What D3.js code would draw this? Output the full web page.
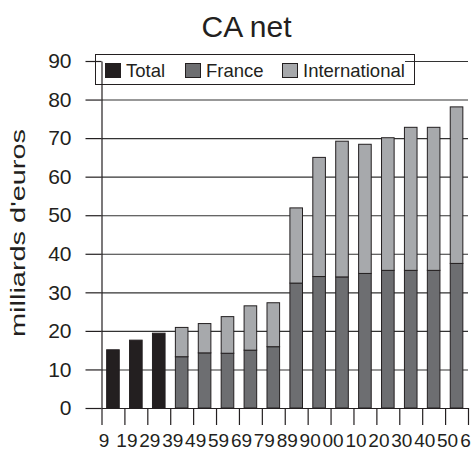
<!DOCTYPE html>
<html>
<head>
<meta charset="utf-8">
<script src="https://cdn.jsdelivr.net/npm/d3@7"></script>
<style>
  html, body { margin: 0; padding: 0; background: #fff; }
  svg { display: block; font-family: "Liberation Sans", Arial, Helvetica, sans-serif; }
</style>
</head>
<body>
<svg id="chart" width="473" height="453"></svg>
<script>
// Chiffre d'affaires net, en milliards d'euros
const tickLabels = ["9", "19", "29", "39", "49", "59", "69", "79", "89", "90", "00", "10", "20", "30", "40", "50", "6"];
const totalValues = [15.1, 17.6, 19.4, 0, 0, 0, 0, 0, 0, 0, 0, 0, 0, 0, 0, 0];
const franceValues = [0, 0, 0, 13.3, 14.3, 14.2, 15.0, 15.9, 32.4, 34.1, 34.0, 34.9, 35.7, 35.7, 35.7, 37.5];
const internationalValues = [0, 0, 0, 7.6, 7.6, 9.5, 11.5, 11.4, 19.5, 30.9, 35.2, 33.5, 34.4, 37.1, 37.1, 40.6];
const yTicks = [0, 10, 20, 30, 40, 50, 60, 70, 80, 90];
const seriesKeys = ["Total", "France", "International"];
const seriesColors = ["#231f20", "#6d6e71", "#a7a9ac"];

const svg = d3.select("#chart");
const plotLeft = 101.5, plotRight = 468, plotTop = 61, plotBottom = 408;
const ink = "#231f20";

const rows = totalValues.map((t, i) => ({
  i, Total: t, France: franceValues[i], International: internationalValues[i]
}));
const stacked = d3.stack().keys(seriesKeys)(rows);

const x = d3.scaleBand().domain(d3.range(rows.length)).range([plotLeft, plotRight])
  .paddingInner(0.45).paddingOuter(0.225);
const xTick = d3.scaleLinear().domain([0, rows.length]).range([plotLeft, plotRight]);
const y = d3.scaleLinear().domain([0, 90]).range([plotBottom, plotTop]);
const color = d3.scaleOrdinal().domain(seriesKeys).range(seriesColors);

// horizontal grid
svg.append("g")
  .attr("transform", `translate(${plotLeft},0)`)
  .call(d3.axisLeft(y).tickValues(yTicks.filter(v => v > 0)).tickSize(-(plotRight - plotLeft)).tickFormat(""))
  .call(g => g.select(".domain").remove())
  .call(g => g.selectAll("line").attr("stroke", "#333").attr("stroke-width", 1.1));

// stacked bars
svg.append("g").selectAll("g").data(stacked).join("g")
  .attr("fill", d => color(d.key))
  .selectAll("rect").data(d => d.filter(s => s[1] - s[0] > 0)).join("rect")
  .attr("x", s => x(s.data.i))
  .attr("width", x.bandwidth())
  .attr("y", s => y(s[1]))
  .attr("height", s => y(s[0]) - y(s[1]))
  .attr("stroke", ink)
  .attr("stroke-width", 1);

// legend
const legend = svg.append("g");
legend.append("rect").attr("x", 96).attr("y", 55).attr("width", 309).attr("height", 28).attr("fill", "#fff");
legend.append("rect").attr("x", 95.5).attr("y", 54.5).attr("width", 319).attr("height", 30)
  .attr("fill", "none").attr("stroke", ink).attr("stroke-width", 1);
const legendX = [105, 185, 282];
const items = legend.selectAll("g.item").data(seriesKeys).join("g")
  .attr("class", "item")
  .attr("transform", (d, i) => `translate(${legendX[i]},63)`);
items.append("rect").attr("x", 0.5).attr("y", 0.5).attr("width", 15).attr("height", 14)
  .attr("fill", d => color(d)).attr("stroke", ink).attr("stroke-width", 1);
items.append("text").attr("x", 21).attr("y", 14).attr("font-size", 18.5).attr("fill", ink).text(d => d);

// y axis
svg.append("g")
  .attr("transform", `translate(${plotLeft},0)`)
  .call(d3.axisLeft(y).tickValues(yTicks).tickSize(16).tickSizeOuter(0).tickPadding(14))
  .call(g => g.selectAll("path,line").attr("stroke", ink).attr("stroke-width", 1.2))
  .call(g => g.selectAll("text").attr("font-size", 21).attr("fill", ink).attr("font-family", null));

// x axis
svg.append("g")
  .attr("transform", `translate(0,${plotBottom})`)
  .call(d3.axisBottom(xTick).tickValues(d3.range(tickLabels.length)).tickSize(17).tickSizeOuter(0)
    .tickPadding(9).tickFormat(i => tickLabels[i]))
  .call(g => g.selectAll("path,line").attr("stroke", ink).attr("stroke-width", 1.2))
  .call(g => g.selectAll("text").attr("font-size", 19).attr("fill", ink).attr("font-family", null)
    .attr("dx", (d, i, n) => i === n.length - 1 ? -3 : 2));

// title
svg.append("text").attr("x", 246.5).attr("y", 37).attr("text-anchor", "middle")
  .attr("font-size", 30).attr("fill", ink).text("CA net");

// y axis title
svg.append("text").attr("transform", "translate(25,233) rotate(-90)")
  .attr("text-anchor", "middle").attr("font-size", 20).attr("fill", ink)
  .attr("textLength", 208).attr("lengthAdjust", "spacingAndGlyphs")
  .text("milliards d'euros");
</script>
</body>
</html>
